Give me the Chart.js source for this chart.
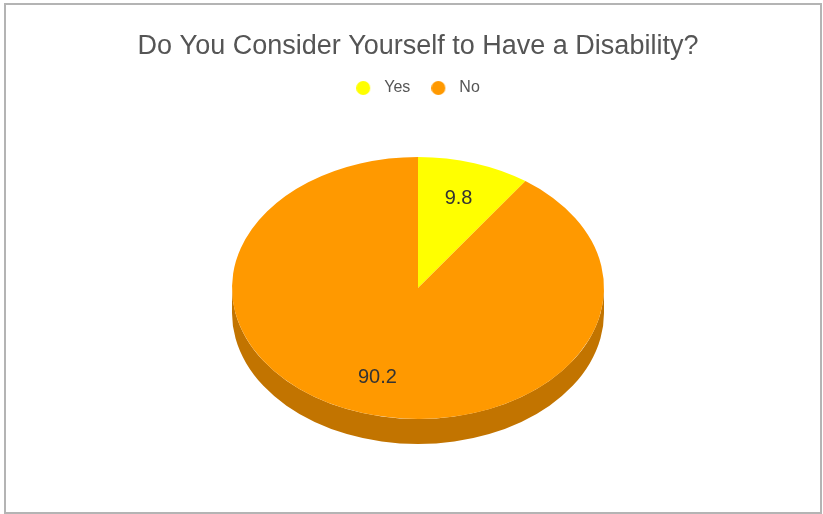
<!DOCTYPE html>
<html>
<head>
<meta charset="utf-8">
<script src="https://cdn.jsdelivr.net/npm/chart.js@4/dist/chart.umd.min.js"></script>
<style>
  html, body { margin: 0; padding: 0; background: #fff; }
  #wrap { position: relative; width: 823px; height: 514px; }
  #frame { position: absolute; left: 4px; top: 3px; width: 818px; height: 511px;
           box-sizing: border-box; border: 2px solid #b4b4b4; pointer-events: none; }
</style>
</head>
<body>
<div id="wrap">
  <canvas id="pie" width="823" height="514"></canvas>
  <div id="frame"></div>
</div>
<script>
const categories = ['Yes', 'No'];
const percentages = [9.8, 90.2];

// tilt of the pie and thickness of its side wall
const TILT = 131 / 186;
const DEPTH = 25;
const FONT = '"Liberation Sans", Arial, sans-serif';

function darken(hex, f) {
    const n = parseInt(hex.slice(1), 16);
    const r = Math.round(((n >> 16) & 255) * f);
    const g = Math.round(((n >> 8) & 255) * f);
    const b = Math.round((n & 255) * f);
    return 'rgb(' + r + ',' + g + ',' + b + ')';
}

// legend marker: a 14px dot sitting at the left of a 20px wide box
function dot(color) {
    const c = document.createElement('canvas');
    c.width = 20;
    c.height = 16;
    const g = c.getContext('2d');
    g.fillStyle = color;
    g.beginPath();
    g.arc(7, 8, 7, 0, Math.PI * 2);
    g.fill();
    return c;
}

const tiltedPie = {
    id: 'tiltedPie',
    beforeDatasetsDraw(chart) {
        const ctx = chart.ctx;
        const meta = chart.getDatasetMeta(0);
        if (!meta.data.length) return;
        const cy = meta.data[0].y;
        ctx.save();
        ctx.translate(0, cy);
        ctx.scale(1, TILT);
        ctx.translate(0, -cy);

        // side wall: only the front half (0..PI) can be seen
        const d = DEPTH / TILT;
        meta.data.forEach(function (arc, i) {
            const p = arc.getProps(['x', 'y', 'startAngle', 'endAngle', 'outerRadius']);
            for (let k = -1; k <= 1; k++) {
                const s = Math.max(p.startAngle, k * 2 * Math.PI);
                const e = Math.min(p.endAngle, k * 2 * Math.PI + Math.PI);
                if (e <= s) continue;
                ctx.beginPath();
                ctx.arc(p.x, p.y, p.outerRadius, s, e);
                ctx.arc(p.x, p.y + d, p.outerRadius, e, s, true);
                ctx.closePath();
                ctx.fillStyle = darken(chart.data.datasets[0].backgroundColor[i], 0.76);
                ctx.fill();
            }
        });
    },
    afterDatasetsDraw(chart) {
        const ctx = chart.ctx;
        ctx.restore();

        // value labels, placed on the tilted face
        const meta = chart.getDatasetMeta(0);
        ctx.save();
        ctx.font = '20px ' + FONT;
        ctx.fillStyle = '#333333';
        ctx.textAlign = 'center';
        ctx.textBaseline = 'middle';
        meta.data.forEach(function (arc, i) {
            const p = arc.getProps(['x', 'y', 'startAngle', 'endAngle', 'outerRadius']);
            const mid = (p.startAngle + p.endAngle) / 2;
            const r = p.outerRadius * 0.72;
            ctx.fillText(String(chart.data.datasets[0].data[i]),
                p.x + r * Math.cos(mid), p.y + r * Math.sin(mid) * TILT);
        });
        ctx.restore();
    }
};

new Chart(document.getElementById('pie').getContext('2d'), {
    type: 'pie',
    data: {
        labels: categories,
        datasets: [{
            data: percentages,
            backgroundColor: ['#ffff00', '#ff9900'],
            borderWidth: 0,
            radius: 186
        }]
    },
    options: {
        responsive: false,
        animation: false,
        layout: { padding: { left: 20, right: 7, top: 0, bottom: 44 } },
        plugins: {
            title: {
                display: true,
                text: 'Do You Consider Yourself to Have a Disability?',
                color: '#555555',
                font: { family: FONT, size: 27, weight: 'normal', lineHeight: 1 },
                padding: { top: 33.5, bottom: -1.5 }
            },
            legend: {
                position: 'top',
                labels: {
                    usePointStyle: true,
                    pointStyleWidth: 20,
                    padding: 21,
                    color: '#555555',
                    font: { family: FONT, size: 16 },
                    generateLabels(chart) {
                        const items = Chart.overrides.pie.plugins.legend.labels.generateLabels(chart);
                        items.forEach(function (item) {
                            item.pointStyle = dot(item.fillStyle);
                        });
                        return items;
                    }
                }
            },
            tooltip: { enabled: false }
        }
    },
    plugins: [tiltedPie]
});
</script>
</body>
</html>
